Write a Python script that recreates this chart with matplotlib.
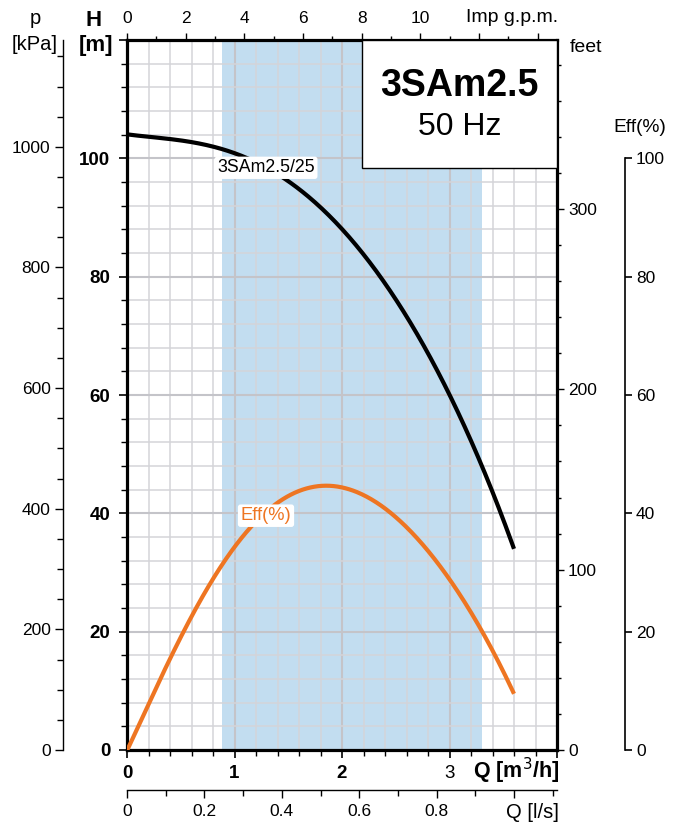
import numpy as np
import matplotlib
matplotlib.use("Agg")
import matplotlib.pyplot as plt
from matplotlib.patches import Rectangle
from matplotlib.ticker import MultipleLocator, FixedLocator

plt.rcParams['font.family'] = ['Liberation Sans', 'DejaVu Sans']

# ---------------- data ----------------
q_m3h = [0.0, 0.2, 0.4, 0.6, 0.8, 1.0, 1.2, 1.4, 1.6, 1.8, 2.0, 2.2, 2.4, 2.6, 2.8, 3.0, 3.2, 3.4, 3.6]
head_m = [103.9, 103.8, 103.4, 102.8, 102.0, 100.8, 99.0, 97.0, 94.9, 92.1, 88.3, 84.2, 78.8, 72.9, 66.4, 60.0, 52.6, 44.2, 33.6]
eff_pct = [0.0, 7.8, 15.2, 22.0, 29.1, 34.9, 39.0, 41.8, 43.5, 44.2, 44.0, 43.0, 41.1, 38.0, 34.1, 28.7, 23.1, 16.3, 9.85]
shade_range = [0.88, 3.30]
model_title = "3SAm2.5"
freq_label = "50 Hz"
curve_label = "3SAm2.5/25"
eff_label = "Eff(%)"

BLACK = "#000000"
ORANGE = "#ee7522"
SHADE = "#c2ddf0"


def smooth(x, y, xs, deg=5):
    """Least-squares smoothing of the read-off points for drawing."""
    p = np.polyfit(np.asarray(x, float), np.asarray(y, float), deg)
    return np.polyval(p, xs)


W, H = 685, 825
fig = plt.figure(figsize=(W / 100, H / 100), dpi=100)
L, R, T, B = 127, 557, 40, 750
ax = fig.add_axes([L / W, 1 - B / H, (R - L) / W, (B - T) / H])
ax.set_xlim(0, 4.0)
ax.set_ylim(0, 120)

for s in ax.spines.values():
    s.set_linewidth(2.3)
    s.set_color(BLACK)

# grid
ax.xaxis.set_major_locator(MultipleLocator(1))
ax.xaxis.set_minor_locator(MultipleLocator(0.2))
ax.yaxis.set_major_locator(MultipleLocator(20))
ax.yaxis.set_minor_locator(MultipleLocator(4))
ax.set_axisbelow('line')
ax.grid(which='major', color='#c4c4c9', lw=1.5)
ax.grid(which='minor', color='#d4d4d9', lw=1.1)

ax.axvspan(shade_range[0], shade_range[1], color=SHADE, lw=0, zorder=1)

# ticks main
ax.tick_params(axis='both', which='major', direction='out', length=6, width=1.2, color=BLACK)
ax.tick_params(axis='both', which='minor', direction='out', length=4, width=1.0, color=BLACK)
ax.tick_params(axis='x', pad=5)
ax.tick_params(axis='y', pad=6)
ax.set_xticks([0, 1, 2, 3, 4])
ax.set_xticklabels(["0", "1", "2", "3", ""])
for i, t in enumerate(ax.get_xticklabels()):
    t.set_fontsize(13.5)
    t.set_fontweight('bold' if i < 3 else 'normal')
ax.set_yticks([0, 20, 40, 60, 80, 100, 120])
ax.set_yticklabels(["0", "20", "40", "60", "80", "100", ""])
for t in ax.get_yticklabels():
    t.set_fontsize(13.5)
    t.set_fontweight('bold')

# curves
xs = np.linspace(q_m3h[0], q_m3h[-1], 400)
ax.plot(xs, smooth(q_m3h, head_m, xs), color=BLACK, lw=3.0, zorder=3, solid_capstyle='butt')
ax.plot(xs, smooth(q_m3h, eff_pct, xs), color=ORANGE, lw=3.0, zorder=3, solid_capstyle='butt')

ax.text(1.293, 98.4, curve_label, fontsize=12.8, color=BLACK, ha='center', va='center', zorder=4,
        bbox=dict(boxstyle='round,pad=0.15', fc='white', ec='none'))
ax.text(1.293, 39.6, eff_label, fontsize=13.2, color=ORANGE, ha='center', va='center', zorder=4,
        bbox=dict(boxstyle='round,pad=0.15', fc='white', ec='none'))

# title box
bx0 = (362 - L) / (R - L)
by0 = (B - 168) / (B - T)
ax.add_patch(Rectangle((bx0, by0), 1 - bx0, 1 - by0, transform=ax.transAxes,
                       fc='white', ec=BLACK, lw=1.0, zorder=5, clip_on=False))
cx = (bx0 + 1) / 2
ax.text(cx, (B - 86) / (B - T), model_title, transform=ax.transAxes, fontsize=27,
        fontweight='bold', ha='center', va='center', zorder=6)
ax.text(cx, (B - 127) / (B - T), freq_label, transform=ax.transAxes, fontsize=23,
        ha='center', va='center', zorder=6)

# top axis: Imp gpm
GPM = 0.272765
top = ax.secondary_xaxis('top', functions=(lambda x: x / GPM, lambda g: g * GPM))
top.xaxis.set_major_locator(FixedLocator([0, 2, 4, 6, 8, 10, 12, 14]))
top.xaxis.set_minor_locator(MultipleLocator(1))
top.set_xticklabels(["0", "2", "4", "6", "8", "10", "", ""])
top.tick_params(which='major', direction='out', length=5, width=1.0, labelsize=12.5, pad=5)
top.tick_params(which='minor', direction='out', length=3, width=1.0)
top.spines['top'].set_visible(False)

# right axis: feet
FT = 0.3048
feet = ax.secondary_yaxis('right', functions=(lambda m: m / FT, lambda f: f * FT))
feet.yaxis.set_major_locator(FixedLocator([0, 100, 200, 300]))
feet.yaxis.set_minor_locator(MultipleLocator(20))
feet.tick_params(which='major', direction='out', length=5, width=1.0, labelsize=12.5, pad=3)
feet.tick_params(which='minor', direction='out', length=3, width=1.0)
feet.spines['right'].set_visible(False)

# left axis: kPa
KPA = 9.81
kpa = ax.secondary_yaxis(-(L - 63) / (R - L), functions=(lambda m: m * KPA, lambda p: p / KPA))
kpa.yaxis.set_major_locator(FixedLocator([0, 200, 400, 600, 800, 1000]))
kpa.yaxis.set_minor_locator(MultipleLocator(50))
kpa.tick_params(which='major', direction='out', length=6, width=1.0, labelsize=12.5, pad=3)
kpa.tick_params(which='minor', direction='out', length=4, width=1.0)
kpa.spines['left'].set_linewidth(1.0)

# far right: efficiency
effax = ax.secondary_yaxis((625 - L) / (R - L))
effax.yaxis.set_major_locator(FixedLocator([0, 20, 40, 60, 80, 100]))
effax.tick_params(which='major', direction='out', length=5, width=1.2, labelsize=12.5, pad=3)
effax.spines['right'].set_linewidth(1.2)
effax.spines['right'].set_bounds(0, 100)

# bottom: l/s
LS = 3.6
ls = ax.secondary_xaxis(-(790 - B) / (B - T), functions=(lambda x: x / LS, lambda v: v * LS))
ls.xaxis.set_major_locator(FixedLocator([0, 0.2, 0.4, 0.6, 0.8, 1.0]))
ls.xaxis.set_minor_locator(MultipleLocator(0.1))
ls.set_xticklabels(["0", "0.2", "0.4", "0.6", "0.8", ""])
ls.tick_params(which='major', direction='out', length=6, width=1.0, labelsize=12.5, pad=4)
ls.tick_params(which='minor', direction='out', length=4, width=1.0)
ls.spines['bottom'].set_linewidth(1.0)

# axis titles
def ft(x, y, s, **kw):
    fig.text(x / W, 1 - y / H, s, **kw)

ft(35, 19, "p", fontsize=14.5, ha='center', va='center')
ft(35, 45, "[kPa]", fontsize=14.5, ha='center', va='center')
ft(94, 20, "H", fontsize=16, fontweight='bold', ha='center', va='center')
ft(96, 46, "[m]", fontsize=16, fontweight='bold', ha='center', va='center')
ft(558, 17, "Imp g.p.m.", fontsize=14, ha='right', va='center')
ft(570, 47, "feet", fontsize=14, ha='left', va='center')
ft(640, 128, "Eff(%)", fontsize=13.8, ha='center', va='center')
ft(559, 771, "Q [m$^3$/h]", fontsize=15.5, fontweight='bold', ha='right', va='center')
ft(559, 813, "Q [l/s]", fontsize=14.5, ha='right', va='center')

fig.savefig("out.png", dpi=100)
